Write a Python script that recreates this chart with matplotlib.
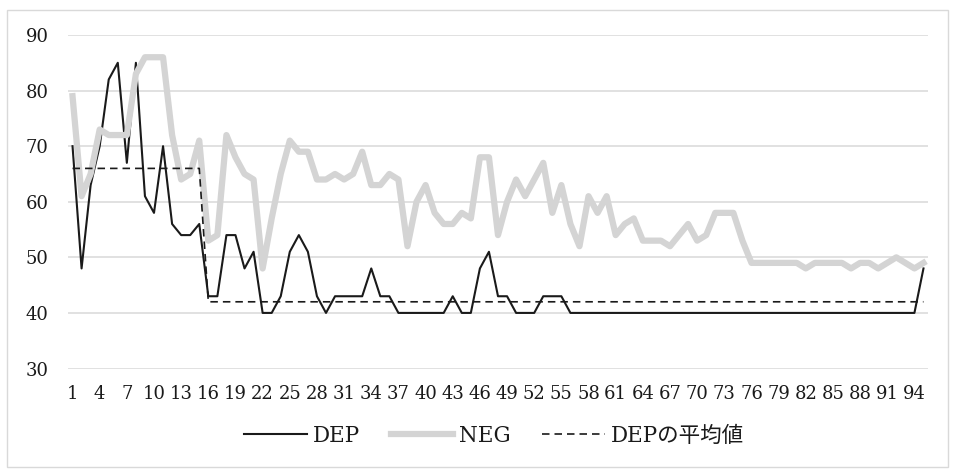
import matplotlib.pyplot as plt
from matplotlib.patches import Rectangle

# values, one per point (1..95)
dep = [70, 48, 63, 70, 82, 85, 67, 85, 61, 58, 70, 56, 54, 54, 56,
       43, 43, 54, 54, 48, 51, 40, 40, 43, 51, 54, 51, 43, 40, 43,
       43, 43, 43, 48, 43, 43, 40, 40, 40, 40, 40, 40, 43, 40, 40,
       48, 51, 43, 43, 40, 40, 40, 43, 43, 43] + [40] * 39 + [48]

neg = [79, 61, 65, 73, 72, 72, 72, 83, 86, 86, 86, 72, 64, 65, 71,
       53, 54, 72, 68, 65, 64, 48, 57, 65, 71, 69, 69, 64, 64, 65,
       64, 65, 69, 63, 63, 65, 64, 52, 60, 63, 58, 56, 56, 58, 57,
       68, 68, 54, 60, 64, 61, 64, 67, 58, 63, 56, 52, 61, 58, 61,
       54, 56, 57, 53, 53, 53, 52, 54, 56, 53, 54, 58, 58, 58, 53,
       49, 49, 49, 49, 49, 49, 48, 49, 49, 49, 49, 48, 49, 49, 48,
       49, 50, 49, 48, 49]

dep_mean = [66] * 15 + [42] * 80

x = list(range(1, len(dep) + 1))
xticks = list(range(1, 95, 3))
yticks = [30, 40, 50, 60, 70, 80, 90]

serif = ['DejaVu Serif', 'Noto Sans CJK JP']
text_color = '#1a1a1a'

W, H = 956, 472
fig = plt.figure(figsize=(W / 100, H / 100), dpi=100)

# chart area border
fig.patches.append(Rectangle((7 / W, 5 / H), 941 / W, 457 / H, transform=fig.transFigure,
                             fill=False, edgecolor='#d9d9d9', linewidth=1.0))

ax = fig.add_axes([68 / W, 1 - 368.5 / H, 860 / W, 333.5 / H])

ax.plot(x, dep, color='#1a1a1a', linewidth=1.5, label='DEP', zorder=3)
ax.plot(x, neg, color='#d4d4d4', linewidth=4.5, label='NEG', zorder=4,
        solid_joinstyle='round')
ax.plot(x, dep_mean, color='#1a1a1a', linewidth=1.2, linestyle=(0, (4.5, 3)),
        label='DEPの平均値', zorder=5)

ax.set_xlim(0.5, len(dep) + 0.5)
ax.set_ylim(30, 90)
ax.set_yticks(yticks)
ax.set_xticks(xticks)
ax.grid(axis='y', color='#d9d9d9', linewidth=1.1, zorder=0)
ax.set_axisbelow(True)
for s in ax.spines.values():
    s.set_visible(False)
ax.tick_params(length=0, colors=text_color)
ax.tick_params(axis='y', pad=14)
ax.tick_params(axis='x', pad=12)
for lab in ax.get_xticklabels() + ax.get_yticklabels():
    lab.set_family(serif)
    lab.set_fontsize(13)

fig.legend(loc='center', bbox_to_anchor=(494 / W, 1 - 436 / H), ncol=3, frameon=False,
           prop={'family': serif, 'size': 15.5}, handlelength=2.9, handletextpad=0.28,
           columnspacing=1.45, labelcolor=text_color)

fig.savefig('out.png', dpi=100)
